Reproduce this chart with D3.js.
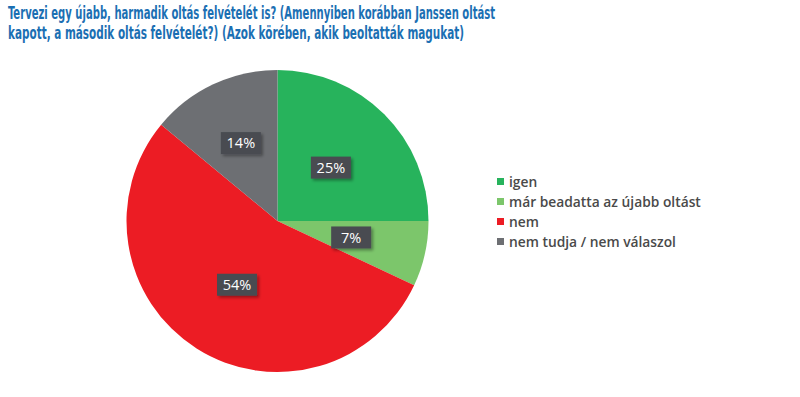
<!DOCTYPE html>
<html>
<head>
<meta charset="utf-8">
<script src="https://cdn.jsdelivr.net/npm/d3@7"></script>
<style>
  body { margin: 0; background: #fff; }
</style>
</head>
<body>
<div id="viz"></div>
<script>
// adatok
var titleLines = [
    "Tervezi egy újabb, harmadik oltás felvételét is? (Amennyiben korábban Janssen oltást",
    "kapott, a második oltás felvételét?) (Azok körében, akik beoltatták magukat)"
];
var categories = ["igen", "már beadatta az újabb oltást", "nem", "nem tudja / nem válaszol"];
var values = [25, 7, 54, 14];
var colors = ["#27b35c", "#7cc66b", "#ec1c24", "#6d6f73"];

var W = 800, H = 397;
var cx = 277.5, cy = 221, R = 151;

var svg = d3.select("#viz")
    .append("svg")
    .attr("width", W)
    .attr("height", H);

var defs = svg.append("defs");
var f = defs.append("filter").attr("id", "sh")
    .attr("x", "-30%").attr("y", "-30%").attr("width", "160%").attr("height", "170%");
f.append("feDropShadow").attr("dx", 2).attr("dy", 2).attr("stdDeviation", 1.5)
    .attr("flood-color", "#000").attr("flood-opacity", 0.35);

// titolo
var titleW = [487, 456];
svg.selectAll("text.title")
    .data(titleLines)
    .enter()
    .append("text")
    .attr("class", "title")
    .attr("x", 8)
    .attr("y", function (d, i) { return 19 + i * 20; })
    .attr("textLength", function (d, i) { return titleW[i]; })
    .attr("lengthAdjust", "spacingAndGlyphs")
    .style("font-family", "'DejaVu Sans', sans-serif")
    .style("font-stretch", "condensed")
    .style("font-weight", "bold")
    .style("font-size", "18px")
    .style("fill", "#1b6fb3")
    .text(function (d) { return d; });

// torta
var pie = d3.pie().sort(null).value(function (d) { return d; });
var arc = d3.arc().innerRadius(0).outerRadius(R);
var arcs = pie(values);

var g = svg.append("g").attr("transform", "translate(" + cx + "," + cy + ")");
g.selectAll("path")
    .data(arcs)
    .enter()
    .append("path")
    .attr("d", arc)
    .attr("fill", function (d, i) { return colors[i]; });

// etichette
var lab = g.selectAll("g.lab")
    .data(arcs)
    .enter()
    .append("g")
    .attr("class", "lab")
    .attr("transform", function (d, i) {
        var c = arc.centroid(d);
        var k = (i === 3) ? 1.14 : 1;
        return "translate(" + (c[0] * k) + "," + (c[1] * k) + ")";
    });
lab.append("rect")
    .attr("x", -20).attr("y", -11)
    .attr("width", 40).attr("height", 22)
    .attr("fill", "#484b51")
    .attr("filter", "url(#sh)");
lab.append("text")
    .attr("text-anchor", "middle")
    .attr("dy", "0.36em")
    .style("font-family", "'Open Sans', sans-serif")
    .style("font-size", "14.5px")
    .style("fill", "#fff")
    .text(function (d) { return d.data + "%"; });

// legenda
var leg = svg.selectAll("g.leg")
    .data(categories)
    .enter()
    .append("g")
    .attr("class", "leg")
    .attr("transform", function (d, i) { return "translate(497," + (182 + i * 20) + ")"; });
leg.append("rect")
    .attr("x", 0).attr("y", -4)
    .attr("width", 7).attr("height", 7)
    .attr("fill", function (d, i) { return colors[i]; });
leg.append("text")
    .attr("x", 12)
    .attr("dy", "0.35em")
    .style("font-family", "'Open Sans', sans-serif")
    .style("font-weight", 600)
    .style("font-size", "13.8px")
    .style("fill", "#4a4a4a")
    .text(function (d) { return d; });
</script>
</body>
</html>
